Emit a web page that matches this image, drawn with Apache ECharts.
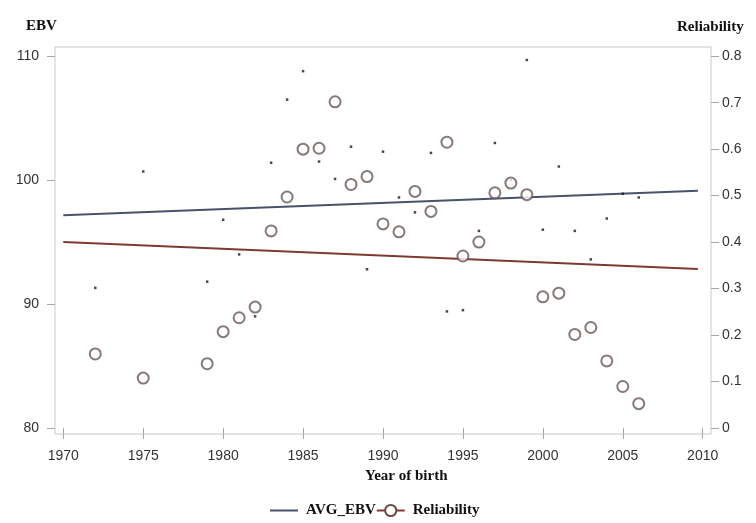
<!DOCTYPE html>
<html>
<head>
<meta charset="utf-8">
<script src="https://cdn.jsdelivr.net/npm/echarts@6/dist/echarts.min.js"></script>
<style>html,body{margin:0;padding:0;background:#fff;}#c{width:756px;height:523px;}</style>
</head>
<body>
<div id="c"></div>
<script>
// AVG_EBV points (small dots, left axis)
var ebvYears = [1972, 1975, 1979, 1980, 1981, 1982, 1983, 1984, 1985, 1986, 1987, 1988, 1989, 1990, 1991, 1992, 1993, 1994, 1995, 1996, 1997, 1998, 1999, 2000, 2001, 2002, 2003, 2004, 2005, 2006];
var ebvValues = [91.3, 100.7, 91.8, 96.8, 94.0, 89.0, 101.4, 106.5, 108.8, 101.5, 100.1, 102.7, 92.8, 102.3, 98.6, 97.4, 102.2, 89.4, 89.5, 95.9, 103.0, 100.0, 109.7, 96.0, 101.1, 95.9, 93.6, 96.9, 98.9, 98.6];
// Reliability points (circles, right axis)
var relYears = [1972, 1975, 1979, 1980, 1981, 1982, 1983, 1984, 1985, 1986, 1987, 1988, 1989, 1990, 1991, 1992, 1993, 1994, 1995, 1996, 1997, 1998, 1999, 2000, 2001, 2002, 2003, 2004, 2005, 2006];
var relValues = [0.159, 0.107, 0.138, 0.207, 0.237, 0.260, 0.424, 0.497, 0.600, 0.602, 0.702, 0.524, 0.541, 0.439, 0.422, 0.509, 0.466, 0.615, 0.370, 0.400, 0.506, 0.527, 0.502, 0.282, 0.290, 0.201, 0.216, 0.144, 0.089, 0.052];
// Trend lines (end points)
var ebvTrendYears = [1970, 2009.7];
var ebvTrendValues = [97.17, 99.14];
var relTrendYears = [1970, 2009.7];
var relTrendValues = [0.400, 0.342];
// Tick labels
var xTicks = [1970, 1975, 1980, 1985, 1990, 1995, 2000, 2005, 2010];
var yLeftTicks = [80, 90, 100, 110];
var yRightTicks = [0, 0.1, 0.2, 0.3, 0.4, 0.5, 0.6, 0.7, 0.8];

function zip(a, b) { return a.map(function (v, i) { return [v, b[i]]; }); }

var serif = 'Liberation Serif';
var sans = 'Liberation Sans';
var tickStyle = { color: '#a8a8a8', width: 1 };
var labelStyle = { color: '#333', fontFamily: sans, fontSize: 14 };
var plain = function (v) { return String(v); };

var chart = echarts.init(document.getElementById('c'), null, { renderer: 'canvas' });
chart.setOption({
  animation: false,
  backgroundColor: '#fff',
  grid: { left: 55, right: 45, top: 47, bottom: 89, show: true, borderColor: '#c8c8c8', borderWidth: 1, backgroundColor: 'transparent' },
  xAxis: {
    type: 'value', min: 1969.48, max: 2010.52,
    axisLine: { show: false },
    splitLine: { show: false },
    axisTick: { show: true, length: 11, lineStyle: tickStyle, customValues: xTicks },
    axisLabel: Object.assign({ margin: 15, customValues: xTicks, formatter: plain }, labelStyle)
  },
  yAxis: [
    {
      type: 'value', min: 79.5, max: 110.75, position: 'left',
      axisLine: { show: false },
      splitLine: { show: false },
      axisTick: { show: true, length: 8, lineStyle: tickStyle, customValues: yLeftTicks },
      axisLabel: Object.assign({ margin: 16, customValues: yLeftTicks, formatter: plain }, labelStyle)
    },
    {
      type: 'value', min: -0.013333, max: 0.82, position: 'right',
      axisLine: { show: false },
      splitLine: { show: false },
      axisTick: { show: true, length: 8, lineStyle: tickStyle, customValues: yRightTicks },
      axisLabel: Object.assign({ margin: 11, customValues: yRightTicks, formatter: plain }, labelStyle)
    }
  ],
  legend: {
    left: 265, top: 498, itemWidth: 28, itemHeight: 14, itemGap: 0,
    data: [
      { name: 'AVG_EBV', icon: 'path://M0,0 L28,0 L28,2 L0,2 Z', itemStyle: { color: '#46536b' } },
      { name: 'Reliability' }
    ],
    textStyle: { fontFamily: serif, fontWeight: 'bold', fontSize: 15, color: '#111', padding: [0, 0, 0, 3] }
  },
  graphic: [
    { type: 'text', left: 26, top: 19, style: { text: 'EBV', font: 'bold 15px "Liberation Serif"', fill: '#111' } },
    { type: 'text', left: 677, top: 20, style: { text: 'Reliability', font: 'bold 15px "Liberation Serif"', fill: '#111' } },
    { type: 'text', left: 365, top: 469, style: { text: 'Year of birth', font: 'bold 15px "Liberation Serif"', fill: '#111' } }
  ],
  series: [
    {
      name: 'AVG_EBV', type: 'line', yAxisIndex: 0, symbol: 'none',
      data: zip(ebvTrendYears, ebvTrendValues),
      lineStyle: { color: '#46536b', width: 2 }, itemStyle: { color: '#46536b' }, z: 3
    },
    {
      name: 'Reliability', type: 'line', yAxisIndex: 1, symbol: 'emptyCircle', symbolSize: 10, showSymbol: false,
      data: zip(relTrendYears, relTrendValues),
      lineStyle: { color: '#7e3a31', width: 2 }, itemStyle: { color: '#6a4a46' }, z: 3
    },
    {
      name: 'AVG_EBV', type: 'scatter', yAxisIndex: 0, symbol: 'rect', symbolSize: 2.5,
      data: zip(ebvYears, ebvValues),
      itemStyle: { color: '#1a1a1a' }, z: 4
    },
    {
      name: 'Reliability', type: 'scatter', yAxisIndex: 1, symbol: 'emptyCircle', symbolSize: 11,
      data: zip(relYears, relValues),
      itemStyle: { color: '#6a5655', borderWidth: 1.5 }, z: 5
    }
  ]
});
</script>
</body>
</html>
